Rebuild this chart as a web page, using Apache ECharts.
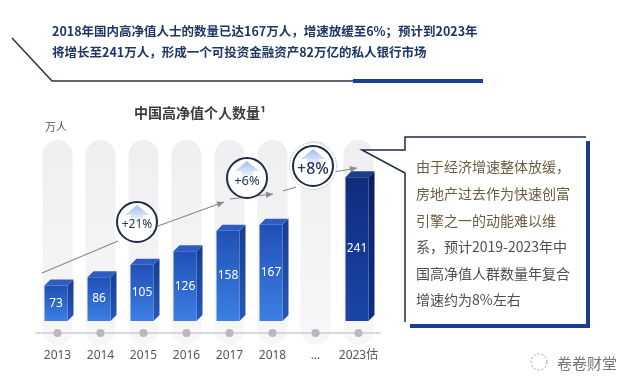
<!DOCTYPE html>
<html><head><meta charset="utf-8">
<script src="https://cdn.jsdelivr.net/npm/echarts@6/dist/echarts.min.js"></script>
<style>html,body{margin:0;padding:0;background:#fff}#c{width:640px;height:392px}</style>
</head><body><div id="c"></div>
<script>
// ---- data ----
const categories = ['2013','2014','2015','2016','2017','2018','…','2023估'];
const values = [73, 86, 105, 126, 158, 167, null, 241];
const forecastIndex = 7;
const growthLabels = ['+21%', '+6%', '+8%'];
const titleLines = [
  '2018年国内高净值人士的数量已达167万人，增速放缓至6%；预计到2023年',
  '将增长至241万人，形成一个可投资金融资产82万亿的私人银行市场'
];
const chartTitle = '中国高净值个人数量¹';
const unitLabel = '万人';
const noteLines = [
  '由于经济增速整体放缓，',
  '房地产过去作为快速创富',
  '引擎之一的动能难以维',
  '系，预计2019-2023年中',
  '国高净值人群数量年复合',
  '增速约为8%左右'
];
const watermark = '卷卷财堂';

// ---- style ----
const Y_MIN = 18, Y_MAX = 266;
const FONT = '"Noto Sans", "Noto Sans CJK SC", sans-serif';
const CJK = '"Noto Sans CJK SC", "Noto Sans", sans-serif';
const LG = (c0, c1, horiz) => new echarts.graphic.LinearGradient(0, 0, horiz ? 1 : 0, horiz ? 0 : 1, [{offset:0,color:c0},{offset:1,color:c1}]);

const chart = echarts.init(document.getElementById('c'), null, {renderer:'canvas'});

function renderPill(params, api) {
  const i = api.value(0);
  const cx = api.coord([i, Y_MIN])[0];
  const cs = params.coordSys;
  const top = cs.y - 21, bottom = cs.y + cs.height + 24;
  return {type:'rect', shape:{x:cx-15, y:top, width:30, height:bottom-top, r:15},
    style:{fill: LG('#efeff2', '#f7f7f9')}};
}
function renderDot(params, api) {
  const i = api.value(0);
  const cx = api.coord([i, Y_MIN])[0];
  const cs = params.coordSys;
  return {type:'circle', shape:{cx:cx, cy:cs.y + cs.height + 12, r:4}, style:{fill:'#b8b8bd'}};
}
function renderBar(params, api) {
  const v = api.value(1);
  if (v == null || isNaN(v)) return null;
  const i = api.value(0);
  const top = api.coord([i, v]);
  const base = api.coord([i, Y_MIN]);
  const cx = top[0];
  const x0 = cx - 13, x1 = cx + 10, d = 6;
  const yt = top[1], yb = base[1];
  const fc = i === forecastIndex;
  const front = fc ? LG('#0f2c7c', '#1a45a8') : LG('#2050b6', '#3d7fe2');
  const side = fc ? LG('#0a1f5e', '#102f80') : LG('#173c90', '#2758b8');
  const topc = fc ? '#1e3c8c' : '#2f5cc2';
  return {type:'group', children:[
    {type:'polygon', shape:{points:[[x1,yt],[x1+d,yt-d],[x1+d,yb-d],[x1,yb]]}, style:{fill:side}},
    {type:'polygon', shape:{points:[[x0,yt],[x1,yt],[x1+d,yt-d],[x0+d,yt-d]]}, style:{fill:topc}},
    {type:'rect', shape:{x:x0, y:yt, width:x1-x0, height:yb-yt}, style:{fill:front}},
    {type:'text', style:{text:String(v), x:(x0+x1)/2, y:(yt+yb)/2, align:'center', verticalAlign:'middle',
      fill:'#ffffff', font:'12px ' + FONT}}
  ]};
}

function arrow(x1, y1, x2, y2, head) {
  const els = [{type:'line', shape:{x1:x1,y1:y1,x2:x2,y2:y2}, style:{stroke:'#8a8a8e', lineWidth:1.2}, z:5}];
  if (head) {
    const a = Math.atan2(y2-y1, x2-x1), L = 7, W = 3.2;
    const bx = x2 - L*Math.cos(a), by = y2 - L*Math.sin(a);
    els.push({type:'polygon', shape:{points:[[x2,y2],[bx - W*Math.sin(a), by + W*Math.cos(a)],[bx + W*Math.sin(a), by - W*Math.cos(a)]]},
      style:{fill:'#8a8a8e'}, z:5});
  }
  return els;
}
function bubble(cx, cy, r, label, fontSize, weight, ring) {
  const els = [];
  if (ring) els.push({type:'circle', shape:{cx:cx, cy:cy, r:r+3.5}, style:{fill:'#fff', stroke:'#a9b4c8', lineWidth:1, lineDash:[1.5,1.5]}, z:6});
  els.push({type:'circle', shape:{cx:cx, cy:cy, r:r}, style:{fill:'#ffffff', stroke:'#1f2b46', lineWidth:2}, z:7});
  els.push({type:'polygon', shape:{points:[[cx,cy-r+3],[cx+12,cy-r+13],[cx+6,cy-r+13],[cx+6,cy-r+18],[cx-6,cy-r+18],[cx-6,cy-r+13],[cx-12,cy-r+13]]},
    style:{fill: LG('#a3bcec', '#eef3fc')}, z:8});
  els.push({type:'text', style:{text:label, x:cx, y:cy+3, align:'center', verticalAlign:'middle',
    fill:'#26345a', font: weight + ' ' + fontSize + 'px ' + FONT}, z:9});
  return els;
}

const graphics = [];
// title decoration
graphics.push({type:'polyline', shape:{points:[[12,38],[52,81],[353,81]]}, style:{stroke:'#2b3244', lineWidth:1.5, fill:null}});
graphics.push({type:'line', shape:{x1:353,y1:81,x2:483,y2:81}, style:{stroke:'#1c3f8f', lineWidth:4}});
titleLines.forEach((t, k) => graphics.push({type:'text', style:{text:t, x:52, y:31 + k*21.5, verticalAlign:'middle',
  fill:'#1f3763', font:'bold 12.5px ' + CJK}}));
graphics.push({type:'text', style:{text:chartTitle, x:200, y:113, align:'center', verticalAlign:'middle', fill:'#3c3c3c', font:'bold 14px ' + CJK}});
graphics.push({type:'text', style:{text:unitLabel, x:45, y:127, verticalAlign:'middle', fill:'#555', font:'11px ' + CJK}});
// trend arrows
[].concat(
  arrow(42, 273, 118, 241, false),
  arrow(158, 226, 224, 202, true),
  arrow(230, 199, 273, 194, true),
  arrow(283, 191, 296, 187, false),
  arrow(334, 172, 357, 168, true)
).forEach(e => graphics.push(e));
bubble(137, 222, 20, growthLabels[0], 12, 'normal', false).forEach(e => graphics.push(e));
bubble(247, 178, 20, growthLabels[1], 13, 'normal', false).forEach(e => graphics.push(e));
bubble(313, 166, 20, growthLabels[2], 16, '500', true).forEach(e => graphics.push(e));
// callout box
graphics.push({type:'polygon', shape:{points:[[405,137],[587,137],[587,324],[405,324],[405,173],[362,150],[405,150]]}, style:{fill:'#ffffff'}, z:3});
graphics.push({type:'polyline', shape:{points:[[405,322],[405,173],[362,150],[405,150],[405,137],[586,137]]}, style:{stroke:'#1d2a47', lineWidth:1.5, fill:null}, z:4});
graphics.push({type:'polyline', shape:{points:[[588,141],[588,326],[410,326]]}, style:{stroke:'#1b3d8f', lineWidth:4, fill:null}, z:4});
noteLines.forEach((t, k) => graphics.push({type:'text', style:{text:t, x:416, y:167 + k*26.6, verticalAlign:'middle',
  fill: k < 3 ? '#6c5d42' : '#4f4f4f', font:'14px ' + CJK}, z:5}));
// watermark
graphics.push({type:'circle', shape:{cx:539, cy:362, r:8}, style:{fill:null, stroke:'#9a9a9a', lineWidth:1, lineDash:[2,2]}});
graphics.push({type:'text', style:{text:watermark, x:557, y:363, verticalAlign:'middle', fill:'#777', font:'15px ' + CJK}});

chart.setOption({
  backgroundColor:'#ffffff',
  animation:false,
  grid:{left:36, right:260, top:161, bottom:71},
  xAxis:{type:'category', data:categories, offset:12, z:2,
    axisLine:{show:true, lineStyle:{color:'#cdcdd2', width:1.5}},
    axisTick:{show:false},
    axisLabel:{color:'#555', fontSize:12, margin:17, interval:0, fontFamily:FONT}},
  yAxis:{type:'value', min:Y_MIN, max:Y_MAX, show:false, splitLine:{show:false}},
  series:[
    {type:'custom', z:1, renderItem:renderPill, data:categories.map((c, i) => [i])},
    {type:'custom', z:3, renderItem:renderDot, data:categories.map((c, i) => [i])},
    {type:'custom', z:4, renderItem:renderBar, data:values.map((v, i) => [i, v == null ? '-' : v])}
  ],
  graphic:graphics
});
</script></body></html>
